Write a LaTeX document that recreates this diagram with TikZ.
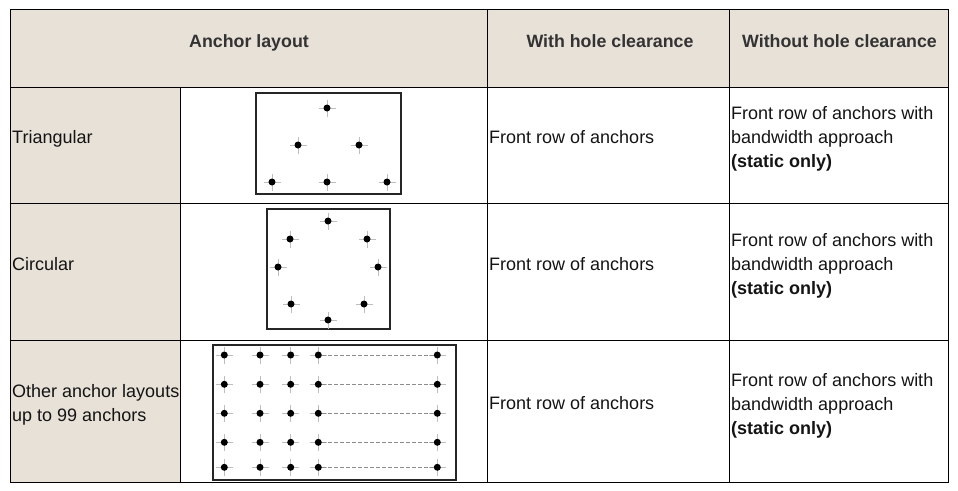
\documentclass[tikz,border=0pt]{standalone}
\usepackage{fontspec}
\setmainfont{Liberation Sans}
\definecolor{beige}{RGB}{232,225,216}
\definecolor{headtext}{RGB}{51,51,51}
\definecolor{bodytext}{RGB}{20,20,20}
\definecolor{crossgray}{RGB}{190,190,190}
\definecolor{dashgray}{RGB}{140,140,140}
\newcommand\anchordot[2]{%
  \path (#2) coordinate (#1);
  \draw[crossline] ([xshift=-8.5pt]#1) -- ([xshift=8.5pt]#1) ([yshift=-8.5pt]#1) -- ([yshift=8.5pt]#1);
  \node[adot] (#1-dot) at (#1) {};}
\begin{document}
\begin{tikzpicture}[x=1pt,y=-1pt,
  tbl/.style={draw=black, line width=1pt},
  figbox/.style={draw=black!85, line width=1.4pt},
  adot/.style={circle, fill=black, inner sep=0pt, minimum size=7pt},
  crossline/.style={draw=crossgray, line width=0.8pt},
  dashline/.style={draw=dashgray, line width=0.9pt, dash pattern=on 4pt off 2pt},
  headcell/.style={font=\fontsize{17.8}{24}\selectfont\bfseries, text=headtext, inner sep=0pt, anchor=base},
  bodycell/.style={font=\fontsize{18}{24}\selectfont, text=bodytext, inner sep=0pt, anchor=base west, align=left}]
\useasboundingbox (0,0) rectangle (958,490);
% backgrounds
\fill[beige] (10,9) rectangle (948,87);
\fill[beige] (10,87) rectangle (180,482);
% grid
\draw[tbl] (10,9) rectangle (948,482);
\draw[tbl] (10,87) -- (948,87);
\draw[tbl] (10,203) -- (948,203);
\draw[tbl] (10,340) -- (948,340);
\draw[tbl] (487,9) -- (487,482);
\draw[tbl] (729,9) -- (729,482);
\draw[tbl] (180,87) -- (180,482);
% header
\node[headcell] (h1) at (249,47.5) {Anchor layout};
\node[headcell] (h2) at (610,47.5) {With hole clearance};
\node[headcell] (h3) at (839.5,47.5) {Without hole clearance};
% row labels
\node[bodycell] (r1) at (12,143.5) {Triangular};
\node[bodycell] (r2) at (12,270.5) {Circular};
\node[bodycell] (r3) at (12,421.5) {Other anchor layouts\\up to 99 anchors};
% with hole clearance
\node[bodycell] (w1) at (489,143.5) {Front row of anchors};
\node[bodycell] (w2) at (489,270.5) {Front row of anchors};
\node[bodycell] (w3) at (489,409.5) {Front row of anchors};
% without hole clearance
\node[bodycell] (o1) at (731,167.5) {Front row of anchors with\\bandwidth approach\\\textbf{(static only)}};
\node[bodycell] (o2) at (731,294.5) {Front row of anchors with\\bandwidth approach\\\textbf{(static only)}};
\node[bodycell] (o3) at (731,434) {Front row of anchors with\\bandwidth approach\\\textbf{(static only)}};
% triangular figure
\draw[figbox] (256,93) rectangle (401,194);
\anchordot{t1}{327,108}
\anchordot{t2}{298,145}
\anchordot{t3}{359,145}
\anchordot{t4}{272,182}
\anchordot{t5}{327,182}
\anchordot{t6}{387,182}
% circular figure
\draw[figbox] (267,209) rectangle (390,329);
\anchordot{c1}{328,221}
\anchordot{c2}{290,239}
\anchordot{c3}{367,239}
\anchordot{c4}{278,267}
\anchordot{c5}{378,267}
\anchordot{c6}{291,304}
\anchordot{c7}{364,304}
\anchordot{c8}{328,320}
% grid figure
\draw[figbox] (213,345) rectangle (456,480);
\foreach \r/\yy in {1/355,2/384.3,3/413.3,4/442.3,5/467.3}{
  \foreach \c/\xx in {1/224.3,2/260,3/290.7,4/318.3,5/437.3}{
    \anchordot{g\c\r}{\xx,\yy}
  }
  \draw[dashline] (g4\r-dot) -- (g5\r-dot);
}
\end{tikzpicture}
\end{document}
